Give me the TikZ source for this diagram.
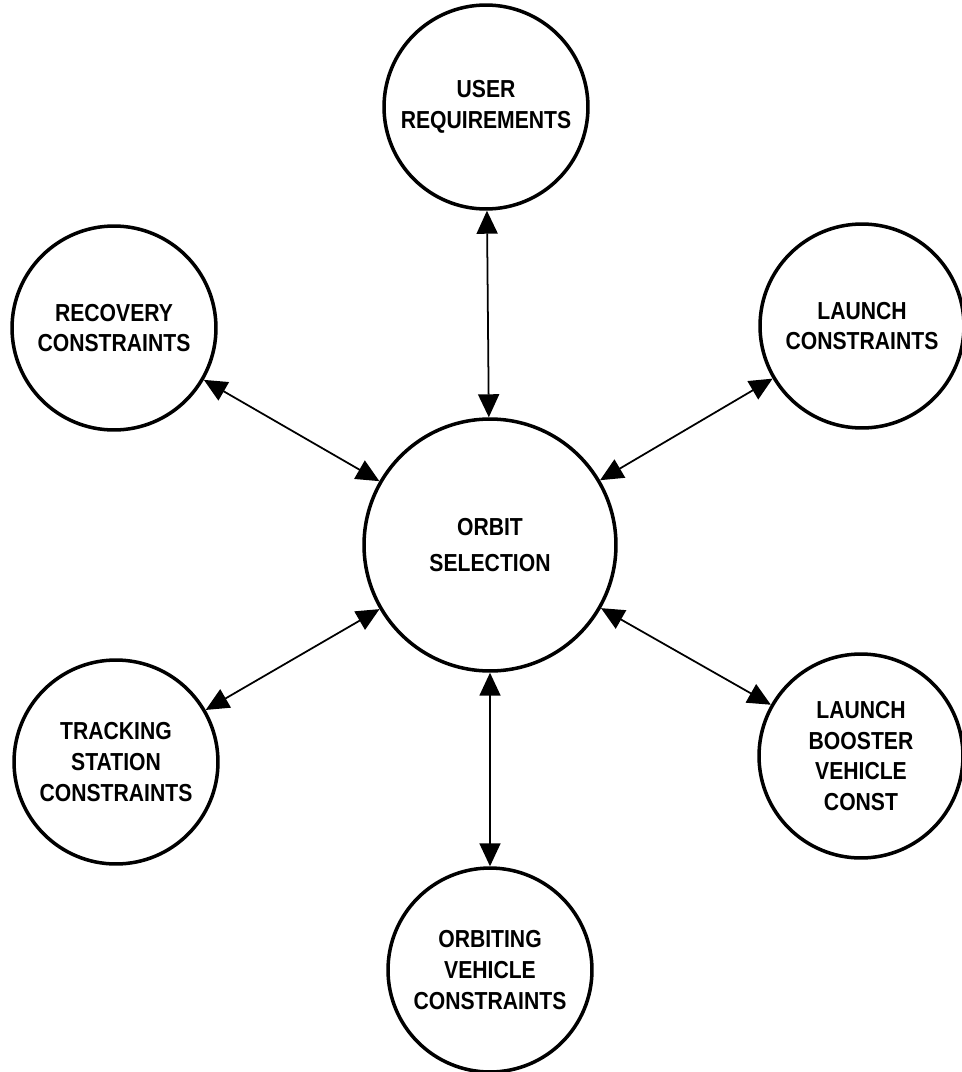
\documentclass[tikz,border=0pt]{standalone}
\usepackage{fontspec}
\setmainfont[FakeStretch=0.86]{Liberation Sans}
\usetikzlibrary{shapes.geometric,arrows.meta,positioning}
\tikzset{
  nucleo/.style={
    circle, draw, line width=2pt, minimum size=5.04cm, align=center,
    font=\fontsize{14}{21}\selectfont\bfseries, inner sep=0pt},
  restric/.style={
    circle, draw, line width=2pt, minimum size=4.08cm, align=center,
    font=\fontsize{14}{17.5}\selectfont\bfseries, inner sep=0pt},
  flecha/.style={{Triangle[length=4.6mm,width=4.2mm]}-{Triangle[length=4.6mm,width=4.2mm]},
    line width=1pt}
}

\begin{document}
\begin{tikzpicture}[x=0.02cm,y=-0.02cm]
\useasboundingbox (0,0) rectangle (961,1072);

% Centro
\node[nucleo] (orbita) at (490,545) {ORBIT\\SELECTION};

% Restricciones
\node[restric] (usuario)  at (486,107) {USER\\REQUIREMENTS};
\node[restric] (recup)    at (114,328) {RECOVERY\\CONSTRAINTS};
\node[restric] (lanz)     at (862,326) {LAUNCH\\CONSTRAINTS};
\node[restric] (rastreo)  at (116,762) {TRACKING\\STATION\\CONSTRAINTS};
\node[restric] (cohete)   at (861,756) {LAUNCH\\BOOSTER\\VEHICLE\\CONST};
\node[restric] (vehiculo) at (490,970) {ORBITING\\VEHICLE\\CONSTRAINTS};

\draw[flecha] (orbita) -- (usuario);
\draw[flecha] (orbita) -- (recup);
\draw[flecha] (orbita) -- (lanz);
\draw[flecha] (orbita) -- (rastreo);
\draw[flecha] (orbita) -- (cohete);
\draw[flecha] (orbita) -- (vehiculo);

\end{tikzpicture}
\end{document}
